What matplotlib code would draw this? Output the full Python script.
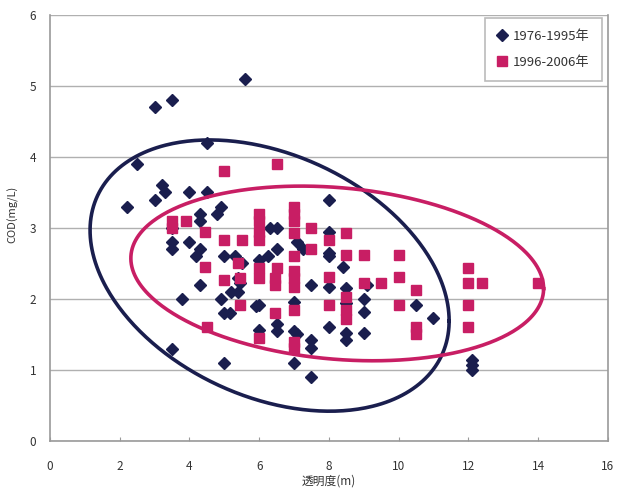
import numpy as np
import matplotlib
matplotlib.use("Agg")
import matplotlib.pyplot as plt

plt.rcParams['font.family'] = ['Noto Sans CJK JP', 'DejaVu Sans']

# 1976-1995 (transparency m, COD mg/L)
old_x = [2.2, 2.5, 3.0, 3.5, 5.6, 4.5, 3.0, 3.2, 3.3, 4.0, 4.5, 4.9, 4.8, 4.3, 4.3,
         3.5, 3.5, 3.5, 4.0, 4.3, 4.2, 4.3, 3.8, 4.9, 5.0, 5.15, 5.4, 5.2, 5.4, 5.9,
         3.5, 5.0, 5.0, 5.3, 5.5, 6.0, 6.25, 6.3, 6.5, 6.5, 7.1, 7.25, 6.5, 6.5,
         7.0, 7.1, 7.5, 7.5, 6.0, 7.0, 7.5, 7.5, 6.0, 7.0, 5.45, 8.0, 8.0, 8.0,
         8.0, 8.4, 8.0, 8.5, 8.5, 9.0, 9.0, 8.0, 8.5, 8.5, 9.0, 10.5, 9.1, 11.0,
         12.1, 12.1, 12.1]
old_y = [3.3, 3.9, 4.7, 4.8, 5.1, 4.2, 3.4, 3.6, 3.5, 3.5, 3.5, 3.3, 3.2, 3.2, 3.1,
         3.0, 2.8, 2.7, 2.8, 2.7, 2.6, 2.2, 2.0, 2.0, 1.8, 1.8, 2.1, 2.1, 2.3, 1.9,
         1.3, 1.1, 2.6, 2.6, 2.5, 2.55, 2.6, 3.0, 3.0, 2.7, 2.8, 2.7, 1.65, 1.55,
         1.55, 1.5, 1.42, 1.31, 1.56, 1.1, 0.9, 2.2, 1.92, 1.96, 2.22, 3.4, 2.95, 2.65,
         2.6, 2.45, 2.17, 2.15, 1.95, 2.0, 1.82, 1.6, 1.52, 1.42, 1.52, 1.92, 2.2, 1.73,
         1.14, 1.07, 1.0]

# 1996-2006
new_x = [3.5, 3.5, 3.9, 4.45, 4.45, 4.5, 5.0, 6.5, 6.0, 6.0, 6.0, 6.0, 7.0, 7.0,
         7.0, 7.0, 7.5, 7.5, 5.0, 5.5, 5.4, 6.0, 6.5, 7.0, 7.0, 5.0, 5.45, 6.0,
         6.45, 6.45, 7.0, 7.0, 5.45, 6.45, 7.0, 6.0, 7.0, 7.0, 8.0, 8.5, 8.5, 9.0,
         8.0, 9.0, 9.5, 10.0, 10.0, 10.0, 10.5, 10.5, 10.5, 8.5, 8.5, 8.5, 8.0,
         12.0, 12.0, 12.4, 12.0, 12.0, 14.0]
new_y = [3.1, 3.0, 3.1, 2.95, 2.45, 1.6, 3.8, 3.9, 3.2, 3.1, 2.95, 2.83, 3.3, 3.2,
         3.1, 2.93, 3.0, 2.7, 2.83, 2.83, 2.5, 2.43, 2.43, 2.6, 2.4, 2.27, 2.3, 2.3,
         2.3, 2.2, 2.3, 2.17, 1.92, 1.8, 1.85, 1.45, 1.31, 1.4, 2.83, 2.93, 2.62, 2.62,
         2.31, 2.22, 2.22, 2.62, 2.31, 1.92, 2.13, 1.6, 1.5, 2.03, 1.85, 1.72, 1.92,
         2.43, 2.22, 2.22, 1.92, 1.6, 2.22]

# ellipses: center x, center y, half width, half height, phase (deg)
old_ell = (6.3, 2.33, 5.15, 1.91, 109.5)
new_ell = (8.24, 2.36, 5.92, 1.23, 100)

navy = '#1a1e4e'
crimson = '#c81e64'
gray = '#9a9a9a'


def ellipse(cx, cy, a, b, phase):
    t = np.linspace(0, 2 * np.pi, 400)
    return cx + a * np.cos(t), cy + b * np.cos(t - np.radians(phase))


fig = plt.figure(figsize=(6.17, 4.88), dpi=100)
ax = fig.add_axes([0.081, 0.0963, 0.904, 0.873])

ax.plot(old_x, old_y, linestyle='none', marker='D', ms=6.3, color=navy,
        label='1976-1995年', zorder=3)
ax.plot(new_x, new_y, linestyle='none', marker='s', ms=7, color=crimson,
        label='1996-2006年', zorder=4)

ex, ey = ellipse(*old_ell)
ax.plot(ex, ey, color=navy, lw=2.6, zorder=5)
ex, ey = ellipse(*new_ell)
ax.plot(ex, ey, color=crimson, lw=2.6, zorder=5)

ax.set_xlim(0, 16)
ax.set_ylim(0, 6)
ax.set_xticks(range(0, 17, 2))
ax.set_yticks(range(0, 7))
ax.yaxis.grid(True, color='#b0b0b0', lw=1)
ax.set_axisbelow(True)
for s in ax.spines.values():
    s.set_color(gray)
    s.set_linewidth(1.2)
ax.spines['top'].set_visible(False)
ax.tick_params(axis='x', direction='in', length=3, color=gray, labelsize=8.5,
               labelcolor='#333333', pad=14)
ax.tick_params(axis='y', length=0, labelsize=8.5, labelcolor='#333333', pad=10)

ax.set_xlabel('透明度(m)', fontsize=8.5, color='#333333', labelpad=1)
ax.set_ylabel('COD(mg/L)', fontsize=8, color='#333333')
ax.yaxis.set_label_coords(-0.056, 0.533)

leg = ax.legend(loc='upper right', bbox_to_anchor=(0.989, 0.993), borderaxespad=0,
                fontsize=9.5, frameon=True, fancybox=False, handlelength=0.7,
                handletextpad=0.5, labelspacing=1.0, borderpad=0.9)
leg.get_frame().set_edgecolor('#aaaaaa')
leg.get_frame().set_linewidth(1.2)
for t in leg.get_texts():
    t.set_color('#333333')

fig.savefig('out.png', dpi=100)
